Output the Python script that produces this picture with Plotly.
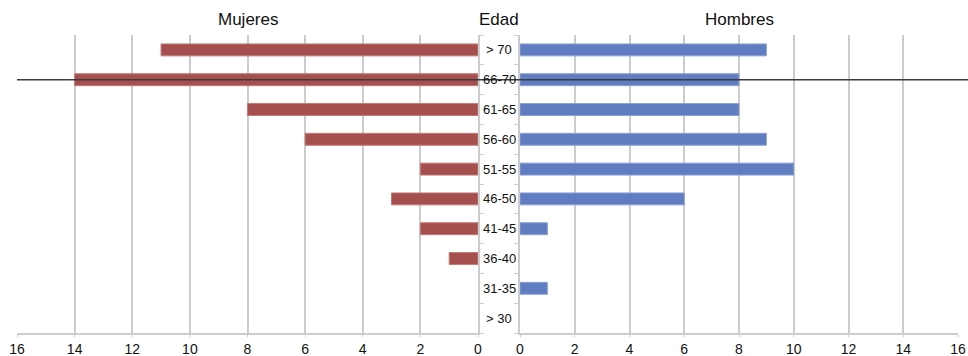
import plotly.graph_objects as go
from plotly.subplots import make_subplots

# Age groups, top to bottom
edades = ["> 70", "66-70", "61-65", "56-60", "51-55", "46-50", "41-45", "36-40", "31-35", "> 30"]
mujeres = [11, 14, 8, 6, 2, 3, 2, 1, 0, 0]
hombres = [9, 8, 8, 9, 10, 6, 1, 0, 1, 0]
ticks_x = [0, 2, 4, 6, 8, 10, 12, 14, 16]

RED = "#A5504E"
BLUE = "#5F7DC0"
GRID = "#CCCCCC"
FONT = "Liberation Sans, Arial, sans-serif"

fig = make_subplots(rows=1, cols=2, horizontal_spacing=0.0)

fig.add_trace(go.Bar(y=edades, x=mujeres, orientation="h", width=0.4,
                     marker=dict(color=RED, line=dict(color="#C07A78",
                                                      width=[1 if v > 0 else 0 for v in mujeres])),
                     showlegend=False), row=1, col=1)
fig.add_trace(go.Bar(y=edades, x=hombres, orientation="h", width=0.4,
                     marker=dict(color=BLUE, line=dict(color="#8AA0D4",
                                                       width=[1 if v > 0 else 0 for v in hombres])),
                     showlegend=False), row=1, col=2)

W, H = 968, 356
L0, L1 = 17 / W, 478 / W
R0, R1 = 520 / W, 958 / W

axis_common = dict(
    tickvals=ticks_x, ticktext=[str(t) for t in ticks_x],
    showgrid=True, gridcolor=GRID, gridwidth=1.5,
    zeroline=False, showline=True, linecolor=GRID, linewidth=1.5,
    ticks="outside", ticklen=2, tickcolor=GRID,
    tickfont=dict(family=FONT, size=14, color="#111111"),
    automargin=False,
)
fig.update_xaxes(range=[16, 0], domain=[L0, L1], **axis_common, row=1, col=1)
fig.update_xaxes(range=[0, 16], domain=[R0, R1], **axis_common, row=1, col=2)

yaxis_common = dict(
    categoryorder="array", categoryarray=edades[::-1],
    showticklabels=False, showgrid=False, zeroline=False,
    showline=True, linecolor=GRID, linewidth=1.5,
    ticks="outside", ticklen=4, tickcolor=GRID, tickson="boundaries",
    automargin=False,
)
fig.update_yaxes(side="right", **yaxis_common, row=1, col=1)
fig.update_yaxes(side="left", **yaxis_common, row=1, col=2)

# Age labels in the central column
mid = (L1 + R0) / 2
for e in edades:
    fig.add_annotation(x=mid, xref="paper", y=e, yref="y", text=e, showarrow=False,
                       font=dict(family=FONT, size=13, color="#111111"),
                       xanchor="center", yanchor="middle")

# Column headings
plot_h = H - 35 - 23
top = 1 + 15 / plot_h
for txt, xp in [("Mujeres", (L0 + L1) / 2), ("Edad", mid), ("Hombres", (R0 + R1) / 2)]:
    fig.add_annotation(x=xp, xref="paper", y=top, yref="paper", text=txt, showarrow=False,
                       font=dict(family=FONT, size=17, color="#111111"),
                       xanchor="center", yanchor="middle")

# Horizontal rule across the 66-70 row
fig.add_shape(type="line", xref="paper", yref="y", x0=L0, x1=1.0, y0="66-70", y1="66-70",
              line=dict(color="#3C3C3C", width=1.5), layer="above")

fig.update_layout(
    width=W, height=H,
    margin=dict(l=0, r=0, t=35, b=23),
    plot_bgcolor="white", paper_bgcolor="white",
    bargap=0.6,
)

fig.write_html("out.html")
